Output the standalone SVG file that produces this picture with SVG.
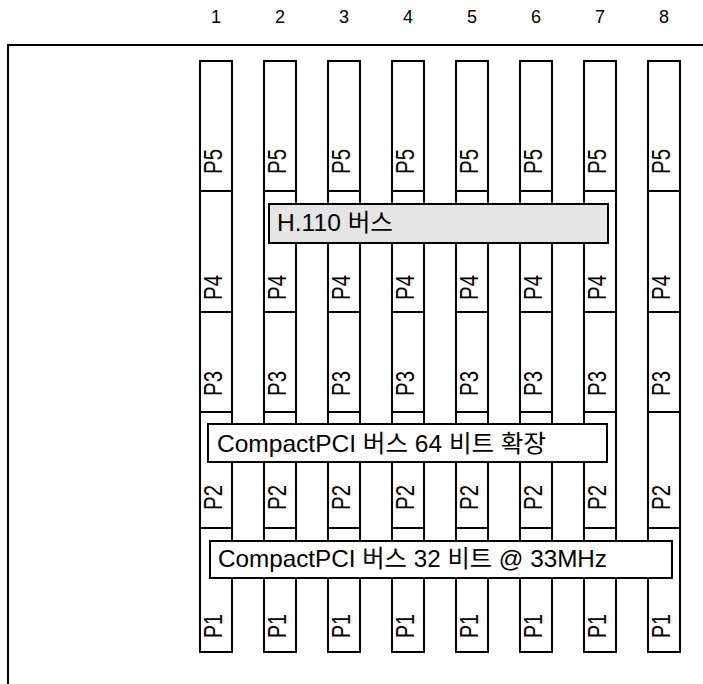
<svg xmlns="http://www.w3.org/2000/svg" width="703" height="684" viewBox="0 0 703 684">
<style>
.ln{fill:none;stroke:#000;stroke-width:2}
.seg{fill:#fff;stroke:#000;stroke-width:2}
.bus{fill:#fff;stroke:#000;stroke-width:2}
.h110{fill:#e5e5e5;stroke:#000;stroke-width:2}
.num{font-family:"Liberation Sans","Noto Sans CJK KR",sans-serif;font-size:18px;fill:#000;text-anchor:middle}
.lab{font-family:"Liberation Sans","Noto Sans CJK KR",sans-serif;font-size:25px;fill:#000}
.bt{font-family:"Liberation Sans","Noto Sans CJK KR",sans-serif;font-size:24px;fill:#000}
</style>
<defs>
<g id="slot">
<rect class="seg" x="0" y="61" width="32" height="130"/>
<rect class="seg" x="0" y="191" width="32" height="121"/>
<rect class="seg" x="0" y="312" width="32" height="100"/>
<rect class="seg" x="0" y="412" width="32" height="116"/>
<rect class="seg" x="0" y="528" width="32" height="124"/>
<text class="lab" transform="translate(22,174) rotate(-90)" textLength="25" lengthAdjust="spacingAndGlyphs">P5</text>
<text class="lab" transform="translate(22,300) rotate(-90)" textLength="25" lengthAdjust="spacingAndGlyphs">P4</text>
<text class="lab" transform="translate(22,396) rotate(-90)" textLength="25" lengthAdjust="spacingAndGlyphs">P3</text>
<text class="lab" transform="translate(22,510) rotate(-90)" textLength="25" lengthAdjust="spacingAndGlyphs">P2</text>
<text class="lab" transform="translate(22,638) rotate(-90)" textLength="24" lengthAdjust="spacingAndGlyphs">P1</text>
</g>
</defs>
<g id="frame">
<polyline class="ln" points="8,684 8,45 703,45"/>
</g>
<g id="slot-numbers">
<text class="num" x="216" y="23">1</text>
<text class="num" x="280" y="23">2</text>
<text class="num" x="344" y="23">3</text>
<text class="num" x="408" y="23">4</text>
<text class="num" x="472" y="23">5</text>
<text class="num" x="536" y="23">6</text>
<text class="num" x="600" y="23">7</text>
<text class="num" x="664" y="23">8</text>
</g>
<g id="slot1"><use href="#slot" x="200"/></g>
<g id="slot2"><use href="#slot" x="264"/></g>
<g id="slot3"><use href="#slot" x="328"/></g>
<g id="slot4"><use href="#slot" x="392"/></g>
<g id="slot5"><use href="#slot" x="456"/></g>
<g id="slot6"><use href="#slot" x="520"/></g>
<g id="slot7"><use href="#slot" x="584"/></g>
<g id="slot8"><use href="#slot" x="648"/></g>
<g id="bus-h110">
<rect class="h110" x="269" y="204" width="339" height="39"/>
<text class="bt" x="277" y="231" textLength="116" lengthAdjust="spacingAndGlyphs">H.110 버스</text>
</g>
<g id="bus-cpci64">
<rect class="bus" x="208" y="424" width="399" height="38"/>
<text class="bt" x="217" y="452" textLength="329" lengthAdjust="spacingAndGlyphs">CompactPCI 버스 64 비트 확장</text>
</g>
<g id="bus-cpci32">
<rect class="bus" x="210" y="541" width="462" height="37"/>
<text class="bt" x="218" y="567" textLength="389" lengthAdjust="spacingAndGlyphs">CompactPCI 버스 32 비트 @ 33MHz</text>
</g>
<g id="connectors"/>
</svg>
